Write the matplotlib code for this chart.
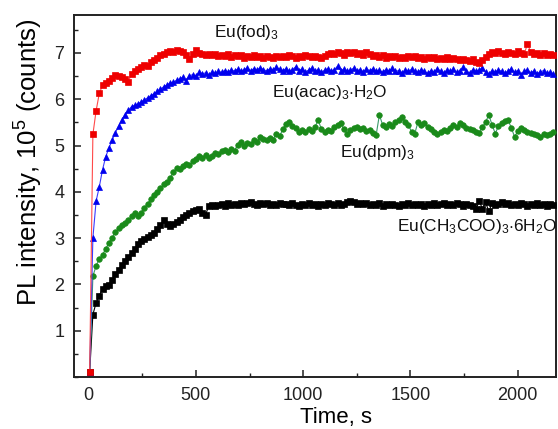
import numpy as np
import matplotlib
matplotlib.use("Agg")
import matplotlib.pyplot as plt
from matplotlib.ticker import MultipleLocator, FixedLocator

plt.rcParams['font.family'] = ['Liberation Sans', 'DejaVu Sans']
plt.rcParams['mathtext.fontset'] = 'custom'
plt.rcParams['mathtext.rm'] = 'Liberation Sans'
plt.rcParams['mathtext.it'] = 'Liberation Sans:italic'

# acquisition times, s (15 s step)
time_s = np.arange(5, 2170, 15)

eu_fod = [
    0.10, 5.24, 5.75, 6.13, 6.30, 6.36, 6.40, 6.47, 6.52, 6.50,
    6.48, 6.44, 6.38, 6.55, 6.62, 6.66, 6.70, 6.73, 6.72, 6.80,
    6.84, 6.90, 6.96, 6.98, 7.03, 7.05, 7.02, 7.06, 7.04, 7.02,
    6.95, 6.86, 6.98, 7.06, 7.01, 6.98, 6.96, 6.98, 6.95, 6.97,
    6.93,
    6.96, 6.94, 6.97, 6.92, 6.95, 6.93, 6.96, 6.90, 6.94, 6.92,
    6.95, 6.91, 6.93, 6.90, 6.94, 6.92, 6.89, 6.93, 6.91, 6.94,
    6.92, 6.95, 6.93, 6.90, 6.94, 6.92, 6.96, 6.93, 6.91, 6.94,
    6.92, 6.90, 6.94, 6.97, 7.01, 6.98, 7.03, 7.00, 6.96, 7.02,
    6.99, 7.03, 6.97, 7.00, 6.95, 7.02, 6.98, 6.93, 6.96, 6.92,
    6.95, 6.90, 6.93, 6.91, 6.94, 6.89, 6.92, 6.90, 6.93, 6.91,
    6.94, 6.90, 6.92, 6.88, 6.91, 6.89, 6.92, 6.87, 6.90, 6.88,
    6.91, 6.86, 6.89, 6.87, 6.84, 6.88, 6.85, 6.83, 6.86, 6.81,
    6.78, 6.84, 6.92, 6.98, 7.02, 6.99, 7.04, 7.01, 6.97, 7.03,
    7.00, 6.98, 7.05, 7.01, 6.97, 7.20, 7.02, 6.98, 7.01, 6.96,
    6.99, 6.95, 6.98, 6.96,
]

eu_acac = [
    0.10, 3.00, 3.80, 4.11, 4.48, 4.76, 4.95, 5.12, 5.28, 5.42,
    5.55, 5.67, 5.76, 5.84, 5.87, 5.90, 5.94, 5.99, 6.03, 6.08,
    6.12, 6.17, 6.22, 6.27, 6.31, 6.35, 6.37, 6.41, 6.44, 6.48,
    6.40, 6.51, 6.53, 6.50, 6.58, 6.55, 6.57, 6.52, 6.59, 6.56,
    6.60,
    6.58, 6.62, 6.59, 6.63, 6.61, 6.65, 6.60, 6.64, 6.67, 6.62,
    6.66, 6.63, 6.68, 6.64, 6.61, 6.66, 6.63, 6.69, 6.65, 6.62,
    6.66, 6.60, 6.64, 6.70, 6.62, 6.65, 6.59, 6.63, 6.67, 6.61,
    6.64, 6.58, 6.63, 6.66, 6.60, 6.64, 6.71, 6.62, 6.65, 6.60,
    6.63, 6.67, 6.61, 6.64, 6.59, 6.65, 6.62, 6.66, 6.60, 6.63,
    6.58, 6.64, 6.61, 6.67, 6.60, 6.62, 6.57, 6.63, 6.60, 6.65,
    6.61, 6.58, 6.64, 6.60, 6.56, 6.62, 6.59, 6.66, 6.61, 6.57,
    6.63, 6.60, 6.65, 6.58, 6.62, 6.69, 6.61, 6.57, 6.64, 6.60,
    6.63, 6.68, 6.59, 6.55, 6.62, 6.58, 6.64, 6.60, 6.56, 6.61,
    6.66, 6.58, 6.62, 6.53, 6.60, 6.64, 6.57, 6.61, 6.55, 6.59,
    6.62, 6.56, 6.58, 6.55,
]

eu_dpm = [
    0.10, 2.18, 2.40, 2.55, 2.64, 2.77, 2.90, 3.01, 3.13, 3.21,
    3.28, 3.33, 3.39, 3.47, 3.54, 3.48, 3.55, 3.66, 3.74, 3.84,
    3.93, 4.00, 4.08, 4.16, 4.21, 4.30, 4.42, 4.52, 4.49, 4.55,
    4.60, 4.57, 4.66, 4.70, 4.78, 4.74, 4.80, 4.73, 4.77, 4.84,
    4.82,
    4.88, 4.91, 4.86, 4.92, 4.89, 5.02, 5.08, 5.00, 5.06, 5.04,
    5.11, 5.08, 5.19, 5.14, 5.11, 5.17, 5.13, 5.26, 5.20, 5.35,
    5.47, 5.51, 5.42, 5.38, 5.30, 5.33, 5.29, 5.36, 5.31, 5.40,
    5.55, 5.35, 5.30, 5.34, 5.32, 5.40, 5.44, 5.48, 5.36, 5.26,
    5.33, 5.38, 5.41, 5.35, 5.39, 5.31, 5.34, 5.28, 5.23, 5.66,
    5.45, 5.41, 5.46, 5.43, 5.51, 5.55, 5.62, 5.50, 5.44, 5.30,
    5.26, 5.51, 5.45, 5.48, 5.40, 5.36, 5.30, 5.26, 5.29, 5.33,
    5.31, 5.37, 5.44, 5.40, 5.48, 5.44, 5.39, 5.35, 5.33, 5.30,
    5.28, 5.40, 5.51, 5.66, 5.45, 5.26, 5.42, 5.48, 5.52, 5.55,
    5.38, 5.19, 5.31, 5.37, 5.34, 5.30, 5.28, 5.26, 5.23, 5.19,
    5.24, 5.22, 5.26, 5.30,
]

eu_acetate = [
    0.10, 1.35, 1.60, 1.76, 1.90, 1.96, 1.98, 2.10, 2.22, 2.31,
    2.42, 2.50, 2.60, 2.68, 2.77, 2.87, 2.93, 2.99, 3.02, 3.06,
    3.11, 3.19, 3.28, 3.39, 3.31, 3.27, 3.31, 3.35, 3.40, 3.45,
    3.50, 3.55, 3.58, 3.60, 3.62, 3.55, 3.50, 3.70, 3.72, 3.69,
    3.71,
    3.73, 3.70, 3.75, 3.72, 3.74, 3.71, 3.76, 3.73, 3.75, 3.78,
    3.74, 3.72, 3.76, 3.73, 3.75, 3.71, 3.74, 3.72, 3.76, 3.73,
    3.74, 3.71, 3.75, 3.72, 3.70, 3.74, 3.72, 3.75, 3.71, 3.73,
    3.70, 3.74, 3.72, 3.76, 3.73, 3.71, 3.75, 3.72, 3.74, 3.79,
    3.80, 3.77, 3.74, 3.76, 3.73, 3.75, 3.71, 3.74, 3.72, 3.75,
    3.70, 3.73, 3.71, 3.74, 3.72, 3.69, 3.73, 3.71, 3.75, 3.72,
    3.74, 3.71, 3.73, 3.70, 3.74, 3.72, 3.75, 3.71, 3.73, 3.76,
    3.72, 3.74, 3.71, 3.75, 3.73, 3.70, 3.74, 3.72, 3.69, 3.62,
    3.80, 3.64, 3.77, 3.58, 3.75, 3.71, 3.74, 3.77, 3.73, 3.75,
    3.71, 3.74, 3.72, 3.76, 3.73, 3.70, 3.74, 3.72, 3.75, 3.71,
    3.73, 3.70, 3.74, 3.72,
]

series_labels = [
    r"Eu(fod)$_3$",
    r"Eu(acac)$_3$$\cdot$H$_2$O",
    r"Eu(dpm)$_3$",
    r"Eu(CH$_3$COO)$_3$$\cdot$6H$_2$O",
]

fig = plt.figure(figsize=(5.58, 4.29), dpi=100)
ax = fig.add_axes([0.1326, 0.1212, 0.8638, 0.8438])

styles = [
    (eu_acetate, 's', '#000000', '#000000'),
    (eu_dpm, 'o', '#1a8a1a', '#3a9a6a'),
    (eu_acac, '^', '#0000ee', '#3a3aff'),
    (eu_fod, 's', '#ee0000', '#ff4a4a'),
]
for values, marker, mcol, lcol in styles:
    ax.plot(time_s, values, color=lcol, lw=0.8, marker=marker,
            markersize=4.0, markerfacecolor=mcol, markeredgecolor=mcol,
            markeredgewidth=0.5, zorder=3)

ax.set_xlim(-68, 2178)
ax.set_ylim(0, 7.82)

ax.xaxis.set_major_locator(MultipleLocator(500))
ax.xaxis.set_minor_locator(MultipleLocator(250))
ax.yaxis.set_major_locator(FixedLocator([1, 2, 3, 4, 5, 6, 7]))
ax.yaxis.set_minor_locator(MultipleLocator(0.5))

ax.tick_params(which='both', direction='in', top=False, right=False,
               colors='#222222', labelcolor='#222222')
ax.tick_params(which='major', length=5, width=1.1, labelsize=13, pad=7)
ax.tick_params(which='minor', length=2.8, width=1.0)
for sp in ax.spines.values():
    sp.set_linewidth(1.4)
    sp.set_color('#222222')

ax.set_xlabel("Time, s", fontsize=16, va='top')
ax.xaxis.set_label_coords(0.544, -0.084)
ax.set_ylabel(r"PL intensity, 10$^5$ (counts)", fontsize=18.5)
ax.yaxis.set_label_coords(-0.06, 0.594)

label_pos = [(585, 7.34), (856, 6.05), (1172, 4.75), (1438, 3.15)]
for text, (tx, ty) in zip(series_labels, label_pos):
    ax.text(tx, ty, text, fontsize=12.4, ha='left', va='baseline',
            color='#111111', zorder=4)

fig.savefig("out.png", dpi=100)
